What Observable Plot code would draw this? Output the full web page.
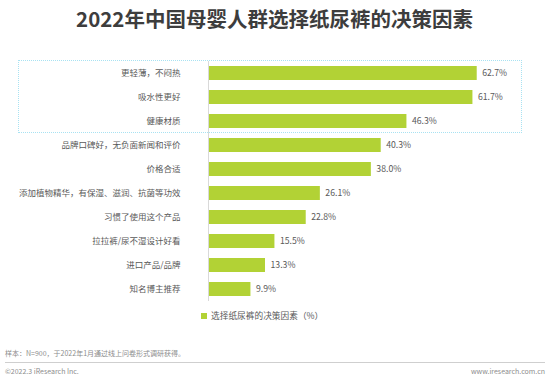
<!DOCTYPE html>
<html>
<head>
<meta charset="utf-8">
<script src="https://cdn.jsdelivr.net/npm/d3@7"></script>
<script src="https://cdn.jsdelivr.net/npm/@observablehq/plot@0.6"></script>
<style>
  html, body { margin: 0; padding: 0; background: #fff; }
  #wrap { position: relative; width: 549px; height: 380px; overflow: hidden; font-family: "Noto Sans CJK SC", "Noto Sans", sans-serif; }
  #title { position: absolute; left: 0; width: 549px; top: 4px; text-align: center; font-size: 20.5px; font-weight: bold; color: #3d3d3d; line-height: 28px; }
  #box { position: absolute; left: 18px; top: 60px; width: 504px; height: 73px; border: 1px dotted #a8e2f2; box-sizing: border-box; }
  #chart { position: absolute; left: 0; top: 55px; }
  #legend { position: absolute; left: 201px; top: 310px; font-size: 8.7px; color: #595959; line-height: 12px; }
  #legend span.sw { display: inline-block; width: 6px; height: 6px; background: #b2d235; margin-right: 4px; vertical-align: 0px; }
  #note { position: absolute; left: 5px; top: 347px; font-size: 7px; color: #8c8c8c; line-height: 12px; }
  #hr { position: absolute; left: 5px; width: 540px; top: 362px; height: 0; border-top: 1px solid #cfcfcf; }
  #copy { position: absolute; left: 5px; top: 365px; font-size: 7px; color: #8c8c8c; line-height: 12px; }
  #www { position: absolute; right: 4px; top: 365px; font-size: 7px; color: #8c8c8c; line-height: 12px; }
</style>
</head>
<body>
<div id="wrap">
  <div id="title">2022年中国母婴人群选择纸尿裤的决策因素</div>
  <div id="chart"></div>
  <div id="box"></div>
  <div id="legend"><span class="sw"></span>选择纸尿裤的决策因素（%）</div>
  <div id="note">样本：N=900，于2022年1月通过线上问卷形式调研获得。</div>
  <div id="hr"></div>
  <div id="copy">©2022.3 iResearch Inc.</div>
  <div id="www">www.iresearch.com.cn</div>
</div>
<script>
const categories = [
  "更轻薄，不闷热",
  "吸水性更好",
  "健康材质",
  "品牌口碑好，无负面新闻和评价",
  "价格合适",
  "添加植物精华，有保湿、滋润、抗菌等功效",
  "习惯了使用这个产品",
  "拉拉裤/尿不湿设计好看",
  "进口产品/品牌",
  "知名博主推荐"
];
const values = [62.7, 61.7, 46.3, 40.3, 38.0, 26.1, 22.8, 15.5, 13.3, 9.9];

const data = categories.map((c, i) => ({category: c, value: values[i]}));

const chart = Plot.plot({
  width: 549,
  height: 250,
  marginTop: 6,
  marginBottom: 4,
  marginLeft: 208,
  marginRight: 41,
  style: {fontFamily: '"Noto Sans CJK SC", "Noto Sans", sans-serif', background: "transparent", color: "#595959"},
  x: {domain: [0, 70], axis: null},
  y: {domain: categories, paddingInner: 0.42, paddingOuter: 0.21, label: null},
  marks: [
    Plot.barX(data, {x: "value", y: "category", fill: "#b2d235"}),
    Plot.ruleX([0], {stroke: "#d9d9d9", strokeWidth: 1}),
    Plot.text(data, {x: "value", y: "category", text: d => d.value.toFixed(1) + "%", textAnchor: "start", dx: 5, fill: "#595959", fontSize: 8.7}),
    Plot.axisY({tickSize: 0, tickPadding: 28, fontSize: 8.5, label: null, fill: "#595959"})
  ]
});
document.getElementById("chart").appendChild(chart);
</script>
</body>
</html>
